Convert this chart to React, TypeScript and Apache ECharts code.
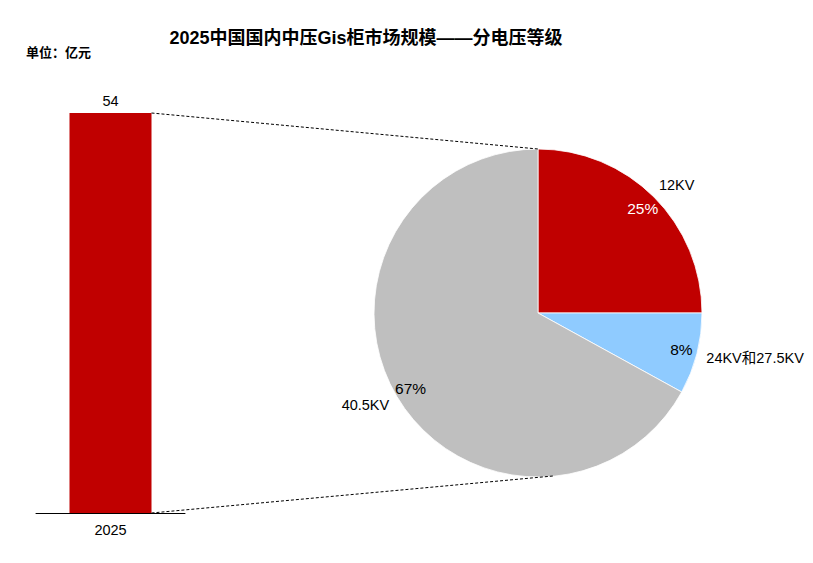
import React, { useEffect, useRef } from "react";
import * as echarts from "echarts";

const barCategories = ["2025"];
const barValues = [54];
const pieNames = ["12KV", "24KV和27.5KV", "40.5KV"];
const pieValues = [25, 8, 67];
const pieColors = ["#C00000", "#8FCBFF", "#BFBFBF"];
const pctColors = ["#FFFFFF", "#000000", "#000000"];

const FONT = "'Liberation Sans', 'Noto Sans CJK SC', sans-serif";
const PIE_CX = 538;
const PIE_CY = 313;
const PIE_R = 164;

export default function App() {
  const ref = useRef<HTMLDivElement>(null);
  useEffect(() => {
    if (!ref.current) return;
    const chart = echarts.init(ref.current, null, { renderer: "svg" });
    const option: any = {
      animation: false,
      backgroundColor: "#ffffff",
      textStyle: { fontFamily: FONT },
      title: [
        {
          text: "2025中国国内中压Gis柜市场规模——分电压等级",
          left: 361,
          textAlign: "center",
          top: 24,
          textStyle: { fontSize: 18, fontWeight: "bold", color: "#000", fontFamily: FONT },
        },
        {
          text: "单位：亿元",
          left: 21,
          top: 41,
          textStyle: { fontSize: 13, fontWeight: "bold", color: "#000", fontFamily: FONT },
        },
      ],
      grid: { left: 36, width: 149, top: 113, bottom: 50 },
      xAxis: {
        type: "category",
        data: barCategories,
        axisLine: { show: true, lineStyle: { color: "#000", width: 1 } },
        axisTick: { show: false },
        axisLabel: { color: "#000", fontSize: 14.5, margin: 10, fontFamily: FONT },
      },
      yAxis: { type: "value", min: 0, max: 54, show: false, splitLine: { show: false } },
      series: [
        {
          type: "bar",
          data: barValues,
          barWidth: 82,
          itemStyle: { color: "#C00000" },
          label: { show: true, position: "top", color: "#000", fontSize: 14.5, distance: 5, fontFamily: FONT },
        },
        {
          type: "pie",
          center: [PIE_CX, PIE_CY],
          radius: [0, PIE_R],
          startAngle: 90,
          clockwise: true,
          avoidLabelOverlap: false,
          itemStyle: { borderColor: "#fff", borderWidth: 0.8 },
          label: {
            show: true,
            position: "outside",
            formatter: "{b}",
            color: "#000",
            fontSize: 14.5,
            overflow: "none",
            fontFamily: FONT,
          },
          labelLine: { show: false, length: 17, length2: -12 },
          data: pieNames.map((n, i) => ({ name: n, value: pieValues[i], itemStyle: { color: pieColors[i] } })),
        },
        {
          type: "pie",
          center: [PIE_CX, PIE_CY],
          radius: [126, PIE_R],
          startAngle: 90,
          clockwise: true,
          silent: true,
          avoidLabelOverlap: false,
          itemStyle: { color: "rgba(0,0,0,0)", borderWidth: 0 },
          label: {
            show: true,
            position: "inside",
            formatter: "{d}%",
            fontSize: 15.5,
            fontFamily: FONT,
          },
          labelLine: { show: false },
          data: pieNames.map((n, i) => ({
            name: n + " ",
            value: pieValues[i],
            label: { color: pctColors[i] },
          })),
        },
      ],
    };
    chart.setOption(option);
    const top = chart.convertToPixel({ xAxisIndex: 0, yAxisIndex: 0 }, [0, barValues[0]]) as number[];
    const bot = chart.convertToPixel({ xAxisIndex: 0, yAxisIndex: 0 }, [0, 0]) as number[];
    const bx = top[0] + 41;
    chart.setOption({
      graphic: [
        {
          type: "line",
          shape: { x1: bx, y1: top[1], x2: PIE_CX, y2: PIE_CY - PIE_R },
          style: { stroke: "#000", lineWidth: 1, lineDash: [3, 2] },
          z: 10,
        },
        {
          type: "line",
          shape: { x1: bx, y1: bot[1], x2: PIE_CX + 15, y2: PIE_CY + PIE_R - 1 },
          style: { stroke: "#000", lineWidth: 1, lineDash: [3, 2] },
          z: 10,
        },
      ],
    });
    return () => chart.dispose();
  }, []);
  return <div ref={ref} style={{ position: "absolute", left: 0, top: 0, width: 813, height: 563 }} />;
}
